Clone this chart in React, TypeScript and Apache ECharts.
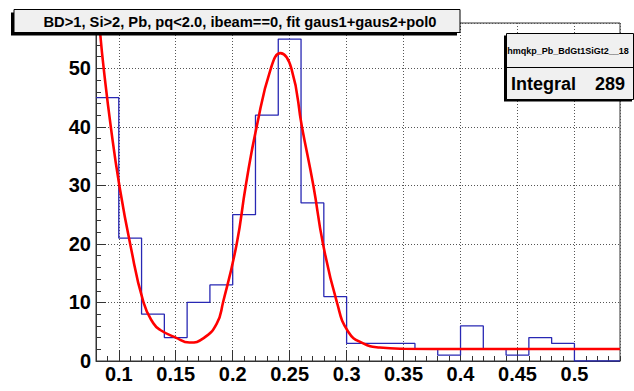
import { useEffect, useRef } from "react";
import * as echarts from "echarts";

// Histogram: bin low edges (width 0.02) and counts
const binLowEdges = [
  0.08, 0.1, 0.12, 0.14, 0.16, 0.18, 0.2, 0.22, 0.24, 0.26, 0.28, 0.3, 0.32,
  0.34, 0.36, 0.38, 0.4, 0.42, 0.44, 0.46, 0.48, 0.5, 0.52,
];
const binCounts = [
  45, 21, 8, 4, 10, 13, 25, 42, 55, 27, 11, 3, 3, 3, 2, 1, 6, 2, 1, 4, 3, 0, 0,
];
const xMin = 0.08;
const xMax = 0.54;
const yMax = 57.75;

// Fit curve (gaus1+gaus2+pol0)
const fitX = [
  0.0838, 0.0868, 0.093, 0.1005, 0.11, 0.1217, 0.1305, 0.1364, 0.15, 0.162,
  0.1745, 0.186, 0.1915, 0.2035, 0.2115, 0.221, 0.2335, 0.2419, 0.2515,
  0.2608, 0.2708, 0.2793, 0.2915, 0.3014, 0.3146, 0.329, 0.35, 0.4, 0.54,
];
const fitY = [
  55.7, 49.9, 40, 30, 20, 10, 6.4, 5.3, 4.0, 3.15, 3.9, 6.4, 10, 20, 30, 40,
  50, 52.6, 50, 40, 30, 20, 10, 5, 3.0, 2.3, 2.1, 2.05, 2.05,
];

const titleText = "BD>1, Si>2, Pb, pq<2.0, ibeam==0, fit gaus1+gaus2+pol0";
const statsName = "hmqkp_Pb_BdGt1SiGt2__18";
const statsLabel = "Integral";
const statsValue = "289";

const FONT = "'Liberation Sans', Arial, Helvetica, sans-serif";

export default function App() {
  const ref = useRef<HTMLDivElement>(null);
  useEffect(() => {
    const chart = echarts.init(ref.current!, null, { renderer: "svg" });
    const histData: number[][] = binLowEdges.map((x, i) => [x, binCounts[i]]);
    histData.push([xMax, 0]);
    const fitData = fitX.map((x, i) => [x, fitY[i]]);

    const axisColor = "#333";
    const labelStyle = {
      fontSize: 20,
      fontWeight: "bold" as const,
      fontFamily: FONT,
      color: "#000",
    };

    const option: any = {
      animation: false,
      backgroundColor: "#fff",
      grid: {
        left: 96,
        top: 23,
        right: 14,
        bottom: 30,
        show: true,
        borderColor: axisColor,
        borderWidth: 1,
        backgroundColor: "transparent",
      },
      xAxis: [
        {
          type: "value",
          min: xMin,
          max: xMax,
          splitNumber: 9,
          position: "bottom",
          axisLine: { show: true, lineStyle: { color: axisColor, width: 1 } },
          axisTick: {
            show: true,
            inside: true,
            length: 11,
            lineStyle: { color: axisColor, width: 1 },
          },
          axisLabel: {
            ...labelStyle,
            margin: 3,
            showMinLabel: false,
            showMaxLabel: false,
            formatter: (v: number) => String(+v.toFixed(2)),
          },
          splitLine: {
            show: true,
            lineStyle: { color: "#555", type: [1, 2], width: 1 },
          },
        },
        {
          type: "value",
          min: xMin,
          max: xMax,
          interval: 0.01,
          position: "bottom",
          axisLine: { show: false },
          axisTick: {
            show: true,
            inside: true,
            length: 5,
            lineStyle: { color: axisColor, width: 1 },
          },
          axisLabel: { show: false },
          splitLine: { show: false },
        },
      ],
      yAxis: [
        {
          type: "value",
          min: 0,
          max: yMax,
          interval: 10,
          position: "left",
          axisLine: { show: true, lineStyle: { color: axisColor, width: 1 } },
          axisTick: {
            show: true,
            inside: true,
            length: 10,
            lineStyle: { color: axisColor, width: 1 },
          },
          axisLabel: { ...labelStyle, margin: 5, showMaxLabel: false },
          splitLine: {
            show: true,
            lineStyle: { color: "#555", type: [1, 2], width: 1 },
          },
        },
        {
          type: "value",
          min: 0,
          max: yMax,
          interval: 2,
          position: "left",
          axisLine: { show: false },
          axisTick: {
            show: true,
            inside: true,
            length: 5,
            lineStyle: { color: axisColor, width: 1 },
          },
          axisLabel: { show: false },
          splitLine: { show: false },
        },
      ],
      series: [
        {
          type: "line",
          xAxisIndex: 0,
          yAxisIndex: 0,
          data: histData,
          step: "end",
          symbol: "none",
          lineStyle: { color: "#2828b4", width: 1.3 },
          z: 3,
        },
        {
          type: "line",
          xAxisIndex: 0,
          yAxisIndex: 0,
          data: fitData,
          smooth: 0.5,
          symbol: "none",
          clip: true,
          lineStyle: { color: "#ff0000", width: 2.6 },
          z: 4,
        },
      ],
      graphic: [
        // title box shadow + box
        {
          type: "rect",
          z: 100,
          shape: { x: 11, y: 12.5, width: 446, height: 23 },
          style: { fill: "#000" },
        },
        {
          type: "rect",
          z: 101,
          shape: { x: 14, y: 9.5, width: 446, height: 23 },
          style: { fill: "#f0f0f0", stroke: "#000", lineWidth: 1 },
        },
        {
          type: "text",
          z: 102,
          x: 240,
          y: 21.5,
          style: {
            text: titleText,
            fill: "#000",
            font: `bold 14.7px ${FONT}`,
            textAlign: "center",
            textVerticalAlign: "middle",
          },
        },
        // stats box shadow + box
        {
          type: "rect",
          z: 100,
          shape: { x: 504, y: 35.5, width: 128, height: 66 },
          style: { fill: "#000" },
        },
        {
          type: "rect",
          z: 101,
          shape: { x: 506.5, y: 33.5, width: 127, height: 66 },
          style: { fill: "#f0f0f0", stroke: "#000", lineWidth: 1 },
        },
        {
          type: "line",
          z: 102,
          shape: { x1: 506.5, y1: 67.5, x2: 634, y2: 67.5 },
          style: { stroke: "#000", lineWidth: 1 },
        },
        {
          type: "text",
          z: 102,
          x: 568,
          y: 50.5,
          style: {
            text: statsName,
            fill: "#000",
            font: `bold 9px ${FONT}`,
            textAlign: "center",
            textVerticalAlign: "middle",
          },
        },
        {
          type: "text",
          z: 102,
          x: 511,
          y: 84,
          style: {
            text: statsLabel,
            fill: "#000",
            font: `bold 18px ${FONT}`,
            textAlign: "left",
            textVerticalAlign: "middle",
          },
        },
        {
          type: "text",
          z: 102,
          x: 625,
          y: 84,
          style: {
            text: statsValue,
            fill: "#000",
            font: `bold 18px ${FONT}`,
            textAlign: "right",
            textVerticalAlign: "middle",
          },
        },
      ],
    };
    chart.setOption(option);
    return () => chart.dispose();
  }, []);
  return (
    <div
      ref={ref}
      style={{ position: "absolute", left: 0, top: 0, width: 634, height: 391 }}
    />
  );
}
